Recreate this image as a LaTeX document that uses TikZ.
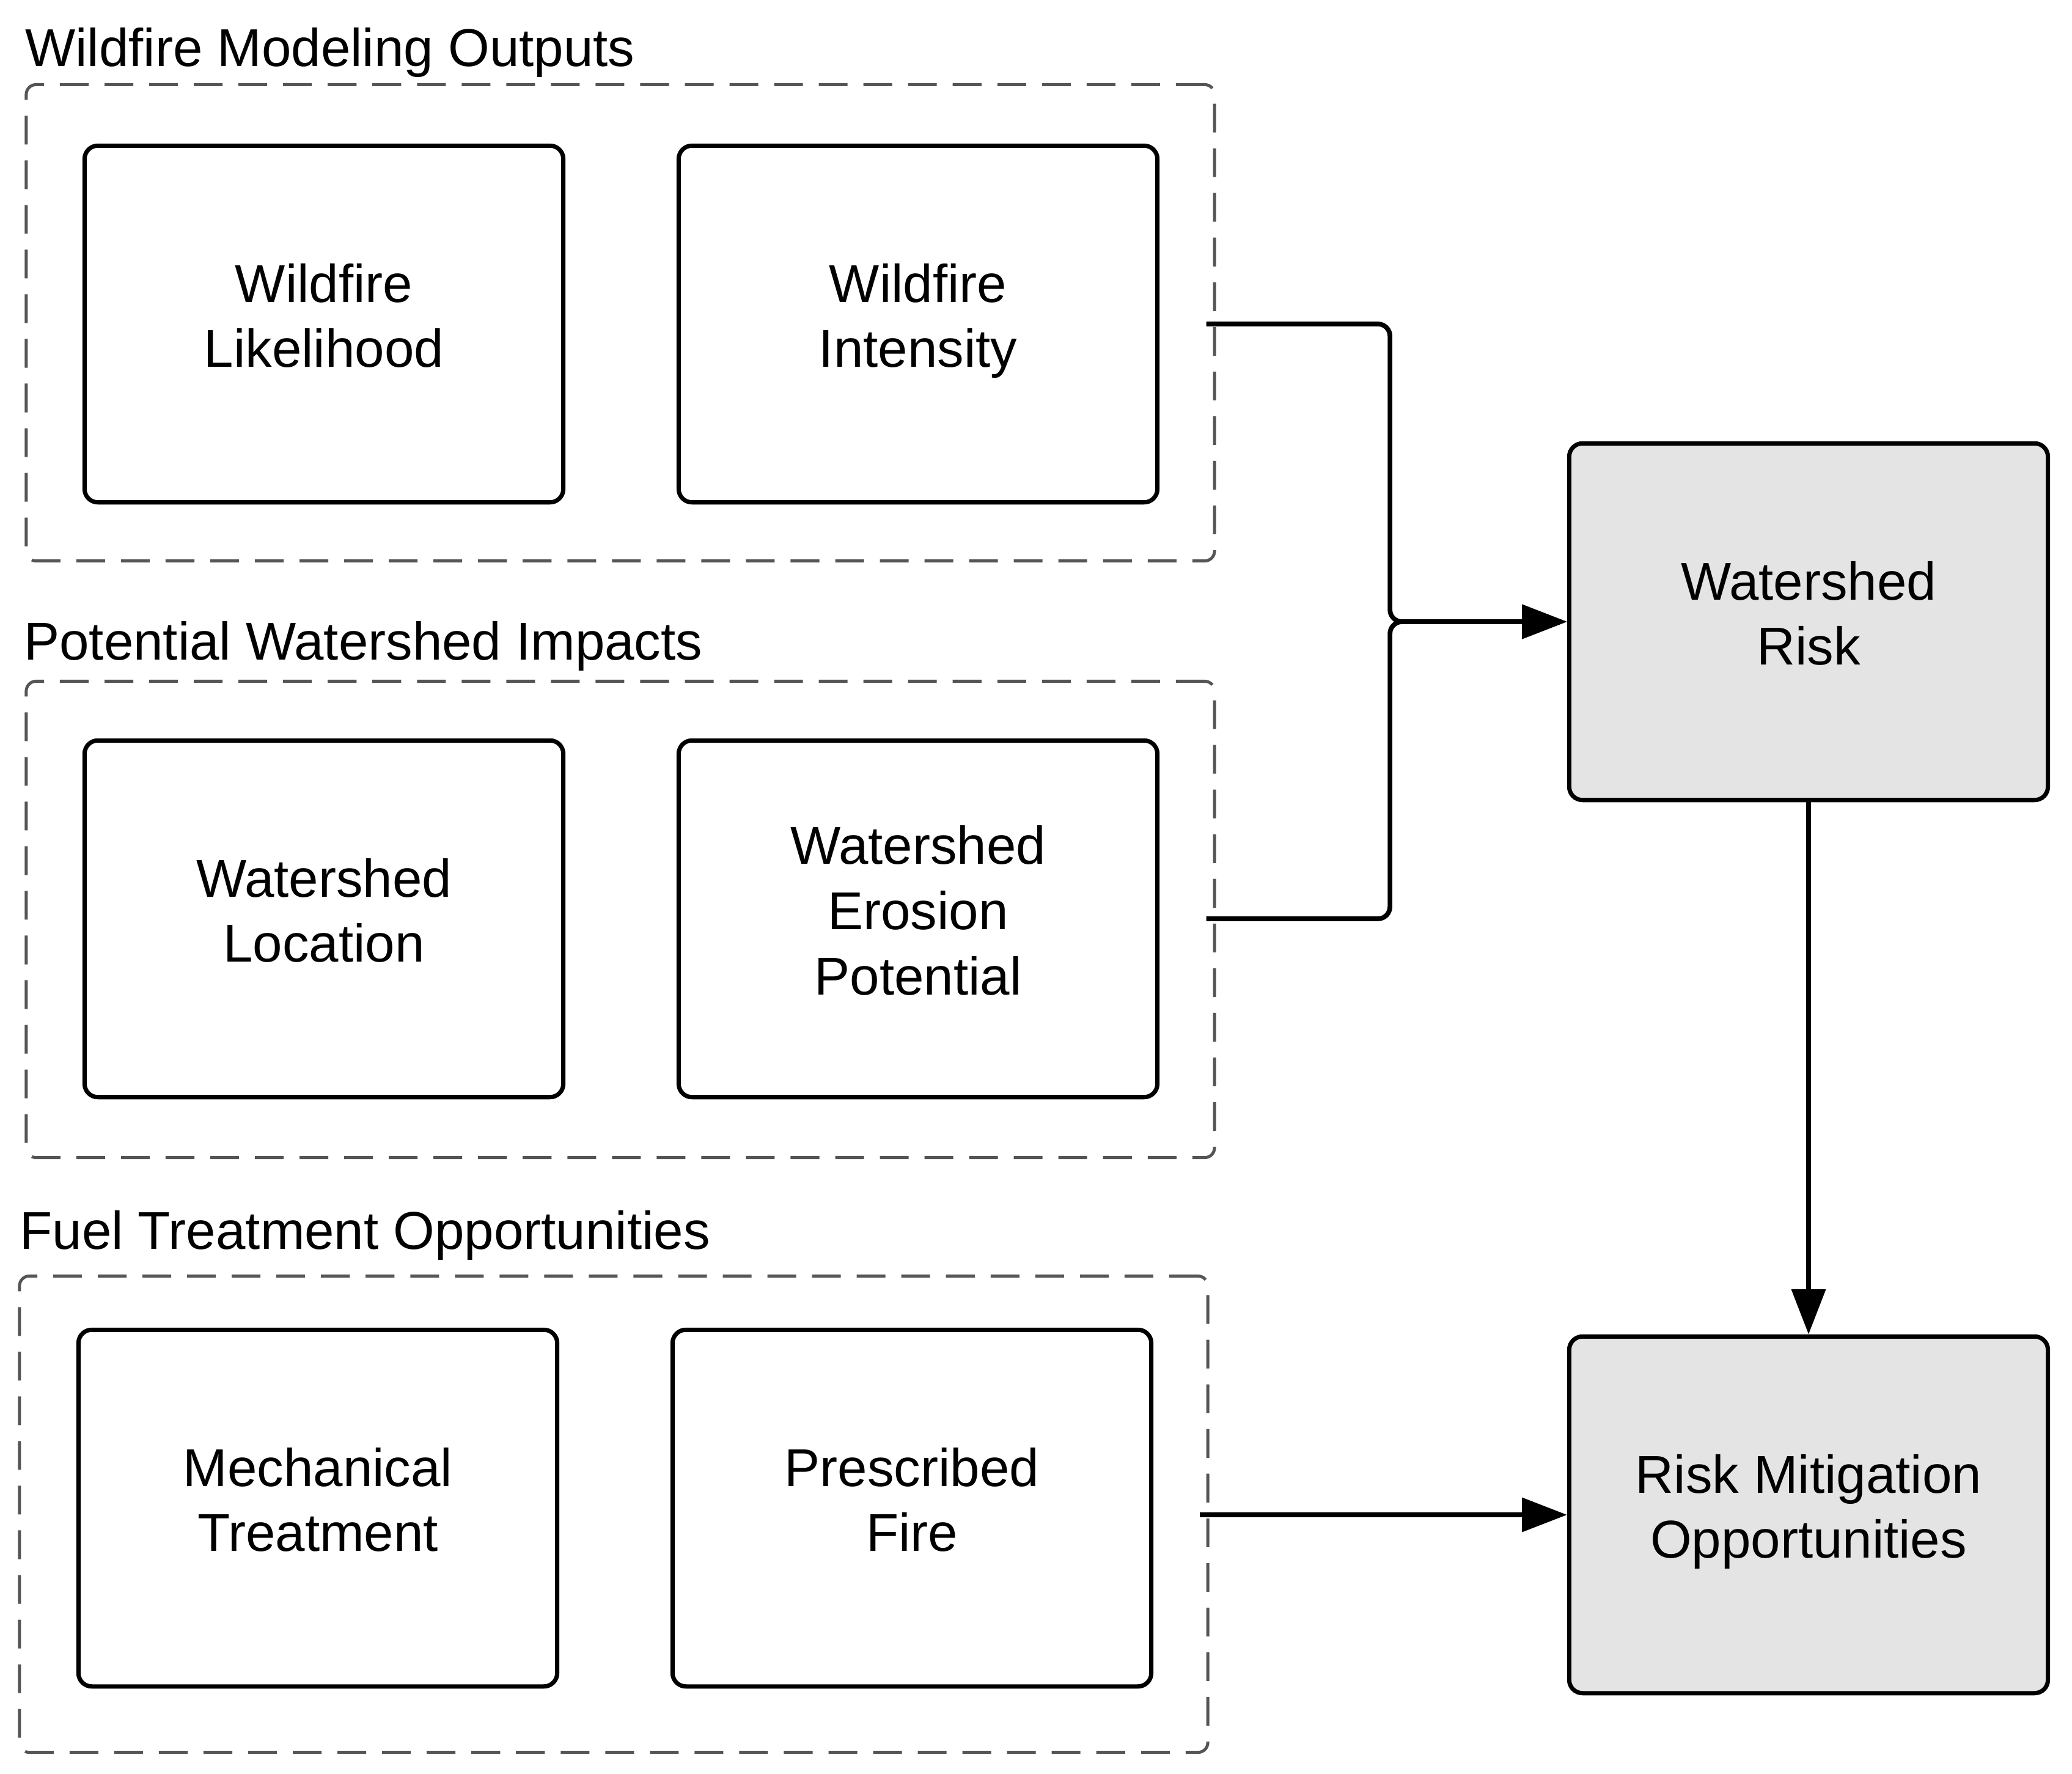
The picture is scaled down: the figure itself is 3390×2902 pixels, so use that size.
\documentclass[tikz,border=0pt]{standalone}
\usepackage{fontspec}
\setmainfont{Liberation Sans}
\usetikzlibrary{arrows.meta}
\definecolor{boxgray}{HTML}{E4E4E4}
\definecolor{dashgray}{HTML}{555555}

\begin{document}
\begin{tikzpicture}[
        x=0.005cm, y=-0.005cm,
        every node/.style={font=\fontsize{12.4}{15.2}\selectfont},
        stepbox/.style={draw, line width=1pt, rounded corners=3.1pt, minimum width=3.92cm, minimum height=2.92cm, align=center, inner sep=0pt, execute at end node={\rule[-4pt]{0pt}{0pt}}},
        outbox/.style={stepbox, fill=boxgray},
        group/.style={draw=dashgray, line width=0.7pt, dash pattern=on 6.7pt off 3.7pt, rounded corners=2.3pt, minimum width=9.73cm, minimum height=3.9cm, inner sep=0pt},
        grptitle/.style={anchor=base west, inner sep=0pt},
        link/.style={line width=1.1pt, -{Triangle[length=10.5pt, width=7.8pt]}},
    ]
    \useasboundingbox (0,0) rectangle (3390,2902);

    % groups
    \node[group](grpa) at (1015,528){};
    \node[group](grpb) at (1015,1504){};
    \node[group](grpc) at (1004,2477){};
    \node[grptitle](ta) at (40,108){Wildfire Modeling Outputs};
    \node[grptitle](tb) at (38,1079){Potential Watershed Impacts};
    \node[grptitle](tc) at (31,2043){Fuel Treatment Opportunities};

    % inputs
    \node[stepbox](like) at (530,530){Wildfire\\Likelihood};
    \node[stepbox](inten) at (1502,530){Wildfire\\Intensity};
    \node[stepbox](loc) at (530,1503){Watershed\\Location};
    \node[stepbox](eros) at (1502,1503){Watershed\\Erosion\\Potential};
    \node[stepbox](mech) at (520,2467){Mechanical\\Treatment};
    \node[stepbox](presc) at (1492,2467){Prescribed\\Fire};

    % outputs
    \node[outbox](risk) at (2959,1017){Watershed\\Risk};
    \node[outbox](mitig) at (2959,2478){Risk Mitigation\\Opportunities};

    \coordinate (join) at ([xshift=-1.45cm]risk.west);
    \draw[link, rounded corners=2.8pt] ([xshift=-0.08cm]inten.east -| grpa.east) -| (join) -- (risk.west);
    \draw[link, rounded corners=2.8pt] ([xshift=-0.08cm]eros.east -| grpb.east) -| (join) -- (risk.west);
    \draw[link] (risk) -- (mitig);
    \draw[link] ([xshift=-0.08cm]mitig.west -| grpc.east) -- (mitig.west);
\end{tikzpicture}
\end{document}
